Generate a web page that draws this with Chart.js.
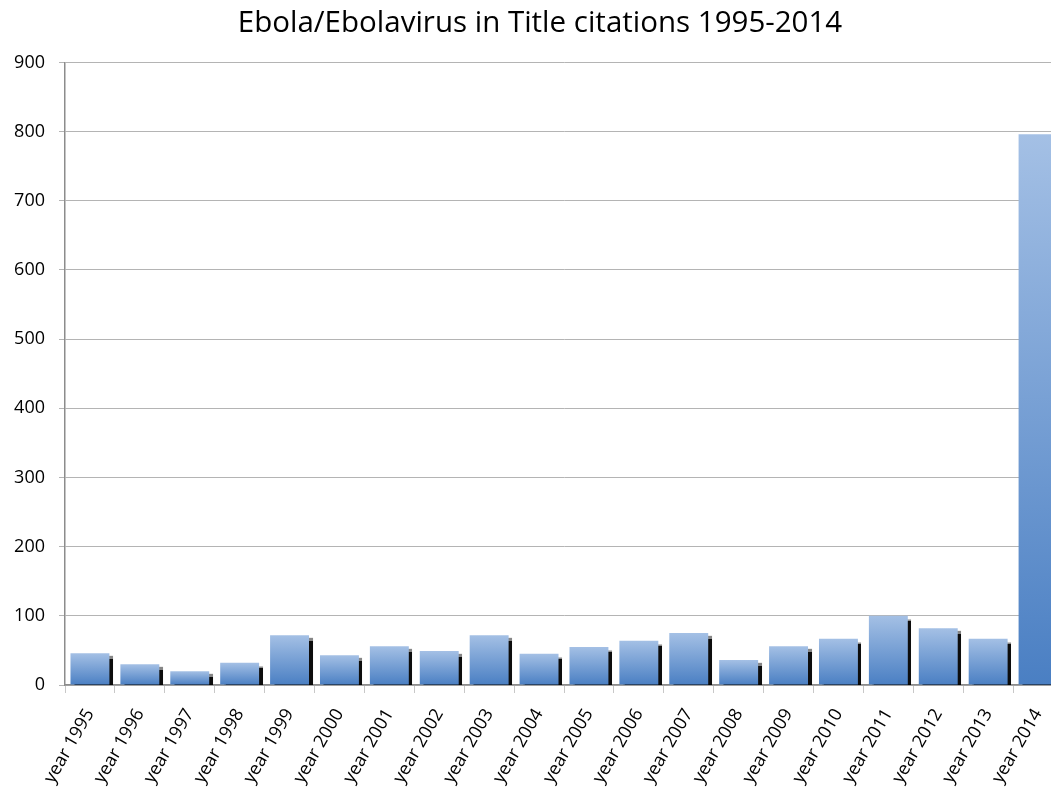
<!DOCTYPE html>
<html>
<head>
<meta charset="utf-8">
<script src="https://cdn.jsdelivr.net/npm/chart.js@4"></script>
<style>
  html, body { margin: 0; padding: 0; background: #fff; overflow: hidden; }
  #wrap { width: 1080px; height: 799px; }
</style>
</head>
<body>
<div id="wrap"><canvas id="citeChart" width="1080" height="799"></canvas></div>
<script>
// Citations per year
const years = ["year 1995", "year 1996", "year 1997", "year 1998", "year 1999",
  "year 2000", "year 2001", "year 2002", "year 2003", "year 2004",
  "year 2005", "year 2006", "year 2007", "year 2008", "year 2009",
  "year 2010", "year 2011", "year 2012", "year 2013", "year 2014"];
const citations = [46, 30, 20, 32, 72, 43, 56, 49, 72, 45,
  55, 64, 75, 36, 56, 67, 100, 82, 67, 796];
const yTicks = [0, 100, 200, 300, 400, 500, 600, 700, 800, 900];

const FONT = "'Open Sans', 'DejaVu Sans', sans-serif";

// each bar gets its own light-to-dark gradient, top to bottom
function barGradient(ctx) {
  const chart = ctx.chart;
  if (!chart.chartArea || ctx.raw === undefined) return "#7ba2d6";
  const y = chart.scales.y;
  const top = y.getPixelForValue(ctx.raw);
  const bottom = y.getPixelForValue(0);
  const g = chart.ctx.createLinearGradient(0, top, 0, bottom);
  g.addColorStop(0, "#a4c0e5");
  g.addColorStop(1, "#4a7fc3");
  return g;
}

// hard black drop shadow to the lower right of each bar
const barShadow = {
  id: "barShadow",
  beforeDatasetsDraw(chart) {
    const c = chart.ctx;
    c.save();
    c.shadowColor = "rgba(0,0,0,0.95)";
    c.shadowOffsetX = 3.5;
    c.shadowOffsetY = 3;
    c.shadowBlur = 1;
  },
  afterDatasetsDraw(chart) {
    chart.ctx.restore();
  },
};

// the original title sits a little right of the canvas centre
const titleNudge = {
  id: "titleNudge",
  afterLayout(chart) {
    const t = chart.titleBlock;
    if (t) { t.left += 8.5; t.right += 8.5; }
  },
};

const chart = new Chart(document.getElementById("citeChart"), {
  type: "bar",
  data: {
    labels: years,
    datasets: [{
      data: citations,
      backgroundColor: barGradient,
      borderWidth: 0,
      categoryPercentage: 1,
      barPercentage: 0.78,
      clip: 0,
    }],
  },
  plugins: [barShadow, titleNudge],
  options: {
    responsive: false,
    animation: false,
    devicePixelRatio: 1,
    layout: { padding: { left: 0, right: 17, top: 0, bottom: 0 } },
    plugins: {
      legend: { display: false },
      tooltip: { enabled: false },
      title: {
        display: true,
        text: "Ebola/Ebolavirus in Title citations 1995-2014",
        color: "#000",
        font: { family: FONT, size: 29.5, weight: "normal", lineHeight: 1.2 },
        padding: { top: 6, bottom: 21 },
      },
    },
    scales: {
      x: {
        offset: true,
        grid: {
          offset: true,
          drawOnChartArea: false,
          drawTicks: true,
          tickLength: 8,
          color: "#c8c8c8",
        },
        border: { display: true, color: "#8c8c8c", width: 1.5 },
        ticks: {
          color: "#000",
          font: { family: FONT, size: 18 },
          minRotation: 60,
          maxRotation: 60,
          autoSkip: false,
          padding: 12,
        },
        afterFit(scale) { scale.height = 114; },
      },
      y: {
        min: 0,
        max: 900,
        afterBuildTicks(scale) { scale.ticks = yTicks.map(v => ({ value: v })); },
        grid: { color: "#b4b4b4", lineWidth: 1, tickLength: 6 },
        border: { display: true, color: "#8c8c8c", width: 1.5 },
        ticks: {
          color: "#000",
          font: { family: FONT, size: 18 },
          padding: 14,
        },
        afterFit(scale) { scale.width = 65; },
      },
    },
  },
});
</script>
</body>
</html>
